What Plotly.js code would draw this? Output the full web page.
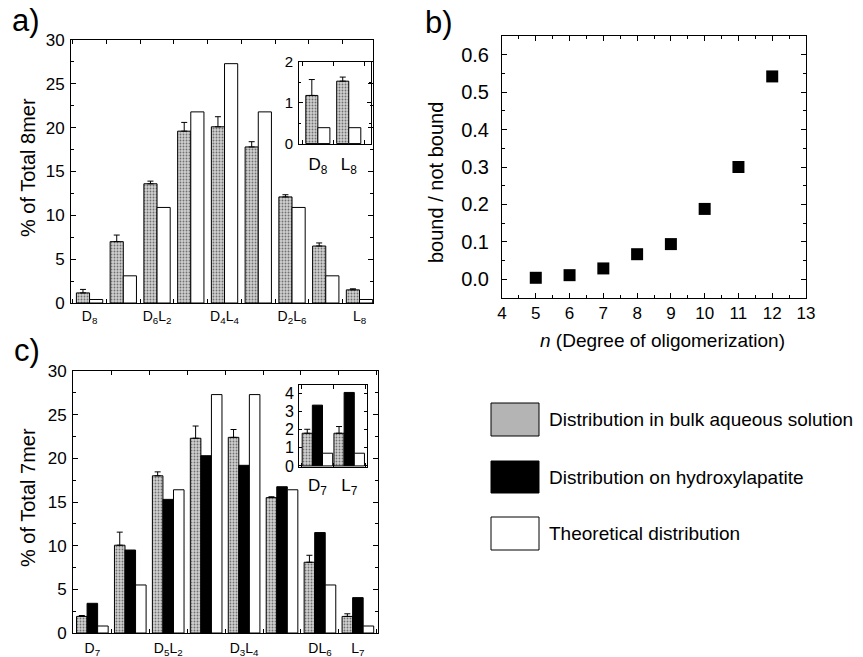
<!DOCTYPE html>
<html>
<head>
<meta charset="utf-8">
<script src="https://cdn.plot.ly/plotly-3.0.1.min.js"></script>
<style>html,body{margin:0;padding:0;background:#fff;}#chart{width:863px;height:657px;}</style>
</head>
<body>
<div id="chart"></div>
<script>
// ---------- data ----------
const cats8 = ['D8','D7L','D6L2','D5L3','D4L4','D3L5','D2L6','DL7','L8'];
const labels8 = ['D<sub>8</sub>','','D<sub>6</sub>L<sub>2</sub>','','D<sub>4</sub>L<sub>4</sub>','','D<sub>2</sub>L<sub>6</sub>','','L<sub>8</sub>'];
const bulk8 = [1.15, 7.0, 13.6, 19.6, 20.1, 17.8, 12.1, 6.5, 1.5];
const bulk8Err = [0.4, 0.75, 0.3, 1.0, 1.15, 0.6, 0.25, 0.35, 0.12];
const theo8 = [0.4, 3.1, 10.9, 21.8, 27.3, 21.8, 10.9, 3.1, 0.4];

const insetCats8 = ['D8','L8'];
const insetLabels8 = ['D<sub>8</sub>','L<sub>8</sub>'];
const insetBulk8 = [1.18, 1.53];
const insetBulk8Err = [0.39, 0.1];
const insetTheo8 = [0.39, 0.39];

const nValues = [5, 6, 7, 8, 9, 10, 11, 12];
const boundRatio = [0.004, 0.011, 0.029, 0.067, 0.094, 0.188, 0.300, 0.542];

const cats7 = ['D7','D6L','D5L2','D4L3','D3L4','D2L5','DL6','L7'];
const labels7 = ['D<sub>7</sub>','','D<sub>5</sub>L<sub>2</sub>','','D<sub>3</sub>L<sub>4</sub>','','DL<sub>6</sub>','L<sub>7</sub>'];
const bulk7 = [1.9, 10.05, 18.0, 22.3, 22.4, 15.5, 8.1, 1.9];
const bulk7Err = [0.1, 1.5, 0.45, 1.4, 0.9, 0.1, 0.8, 0.3];
const hap7 = [3.4, 9.5, 15.3, 20.3, 19.2, 16.75, 11.5, 4.05];
const theo7 = [0.8, 5.5, 16.4, 27.3, 27.3, 16.4, 5.5, 0.8];

const insetCats7 = ['D7','L7'];
const insetLabels7 = ['D<sub>7</sub>','L<sub>7</sub>'];
const insetBulk7 = [1.8, 1.8];
const insetBulk7Err = [0.22, 0.37];
const insetHap7 = [3.35, 4.05];
const insetTheo7 = [0.7, 0.7];

const legendNames = ['Distribution in bulk aqueous solution','Distribution on hydroxylapatite','Theoretical distribution'];

// ---------- helpers ----------
const W = 863, H = 657;
const px = v => v / W;
const py = v => 1 - v / H;
const FONT = 'Liberation Sans, Arial, Helvetica, sans-serif';
const idx = a => a.map((_, i) => i);
const labeledIdx = lab => lab.map((t, i) => t ? i : -1).filter(i => i >= 0);
const labeledTxt = lab => lab.filter(t => t);

const grayMarker = {
  color: '#c4c4c4',
  pattern: {shape: '.', fgcolor: '#707070', bgcolor: '#d0d0d0', size: 3, solidity: 0.3},
  line: {color: '#000', width: 1}
};
const blackMarker = {color: '#000', line: {color: '#000', width: 1}};
const whiteMarker = {color: '#fff', line: {color: '#000', width: 1}};
const errStyle = (arr) => ({type: 'data', symmetric: false, array: arr, arrayminus: arr.map(() => 0), color: '#000', thickness: 1, width: 3});

function bar(xa, ya, x, y, marker, offset, width, err) {
  const t = {type: 'bar', x: x, y: y, xaxis: xa, yaxis: ya, marker: marker, offset: offset, width: width, showlegend: false, hoverinfo: 'skip'};
  if (err) t.error_y = errStyle(err);
  return t;
}

const traces = [
  // panel a
  bar('x', 'y', idx(cats8), bulk8, grayMarker, -0.39, 0.39, bulk8Err),
  bar('x', 'y', idx(cats8), theo8, whiteMarker, 0, 0.39),
  // inset a
  bar('x2', 'y2', idx(insetCats8), insetBulk8, grayMarker, -0.39, 0.39, insetBulk8Err),
  bar('x2', 'y2', idx(insetCats8), insetTheo8, whiteMarker, 0, 0.39),
  // panel b
  {type: 'scatter', mode: 'markers', x: nValues, y: boundRatio, xaxis: 'x3', yaxis: 'y3',
   marker: {symbol: 'square', size: 12, color: '#000'}, showlegend: false, hoverinfo: 'skip'},
  // panel c
  bar('x4', 'y4', idx(cats7), bulk7, grayMarker, -0.417, 0.278, bulk7Err),
  bar('x4', 'y4', idx(cats7), hap7, blackMarker, -0.139, 0.278),
  bar('x4', 'y4', idx(cats7), theo7, whiteMarker, 0.139, 0.278),
  // inset c
  bar('x5', 'y5', idx(insetCats7), insetBulk7, grayMarker, -0.48, 0.32, insetBulk7Err),
  bar('x5', 'y5', idx(insetCats7), insetHap7, blackMarker, -0.16, 0.32),
  bar('x5', 'y5', idx(insetCats7), insetTheo7, whiteMarker, 0.16, 0.32)
];

const baseAxis = {
  showline: true, linecolor: '#000', linewidth: 1, mirror: 'allticks',
  ticks: 'inside', ticklen: 5, tickcolor: '#000', tickwidth: 1,
  showgrid: false, zeroline: false, fixedrange: true,
  tickfont: {family: FONT, size: 17, color: '#000'}
};
function ax(o) { return Object.assign({}, baseAxis, o); }

const catAxis = (domain, range, anchor, lab, fsize, standoff) => ax({
  domain: domain, range: range, anchor: anchor,
  tickmode: 'array', tickvals: labeledIdx(lab), ticktext: labeledTxt(lab), ticklen: 0,
  ticklabelstandoff: standoff,
  tickfont: {family: FONT, size: fsize, color: '#000'},
  minor: {tick0: 0.5, dtick: 1, ticks: 'inside', ticklen: 4, tickcolor: '#000', tickwidth: 1}
});

const layout = {
  width: W, height: H,
  margin: {l: 0, r: 0, t: 0, b: 0},
  paper_bgcolor: '#fff', plot_bgcolor: 'rgba(0,0,0,0)',
  barmode: 'overlay',
  font: {family: FONT, color: '#000'},
  // panel a
  xaxis: catAxis([px(71), px(373)], [-0.55, 8.4], 'y', labels8, 14, 0),
  yaxis: ax({domain: [py(303), py(40)], range: [0, 30], anchor: 'x', dtick: 5, ticklabelstandoff: 2,
             minor: {dtick: 2.5, ticks: 'inside', ticklen: 3, tickcolor: '#000'}}),
  // inset a
  xaxis2: catAxis([px(299), px(371)], [-0.61, 1.72], 'y2', insetLabels8, 17, 5),
  yaxis2: ax({domain: [py(144), py(62)], range: [-0.01, 2.0], anchor: 'x2', dtick: 1, ticklen: 4, ticklabelstandoff: 2,
              tickfont: {family: FONT, size: 15, color: '#000'},
              minor: {dtick: 0.5, ticks: 'inside', ticklen: 2, tickcolor: '#000'}}),
  // panel b
  xaxis3: ax({domain: [px(502), px(806)], range: [4, 13], anchor: 'y3', dtick: 1, ticklabelstandoff: 0,
              minor: {dtick: 0.5, ticks: 'inside', ticklen: 3, tickcolor: '#000'}}),
  yaxis3: ax({domain: [py(298), py(36)], range: [-0.05, 0.65], anchor: 'x3', dtick: 0.1, tickformat: '.1f',
              ticklabelstandoff: 8, tickfont: {family: FONT, size: 20, color: '#000'},
              minor: {dtick: 0.05, ticks: 'inside', ticklen: 3, tickcolor: '#000'}}),
  // panel c
  xaxis4: catAxis([px(73), px(378)], [-0.51, 7.53], 'y4', labels7, 14, 2),
  yaxis4: ax({domain: [py(633), py(371)], range: [0, 30], anchor: 'x4', dtick: 5, ticklabelstandoff: 2,
              minor: {dtick: 2.5, ticks: 'inside', ticklen: 3, tickcolor: '#000'}}),
  // inset c
  xaxis5: catAxis([px(299), px(367)], [-0.58, 1.56], 'y5', insetLabels7, 17, 3),
  yaxis5: ax({domain: [py(467), py(385)], range: [-0.06, 4.46], anchor: 'x5', dtick: 1, ticklen: 3, ticklabelstandoff: 1,
              tickfont: {family: FONT, size: 16, color: '#000'}}),
  annotations: [],
  shapes: []
};

const ann = (text, x, y, size, opts) => Object.assign({
  text: text, xref: 'paper', yref: 'paper', x: px(x), y: py(y), showarrow: false,
  xanchor: 'center', yanchor: 'middle', font: {family: FONT, size: size, color: '#000'}
}, opts || {});

layout.annotations.push(
  ann('a)', 26, 20, 31),
  ann('b)', 439, 22, 31),
  ann('c)', 27, 350, 31),
  ann('% of Total 8mer', 28, 168, 20, {textangle: -90}),
  ann('% of Total 7mer', 28, 498, 20, {textangle: -90}),
  ann('bound / not bound', 436, 183, 20, {textangle: -90}),
  ann('<i>n</i> (Degree of oligomerization)', 662, 340, 19)
);

// legend (swatches + text)
const legendFills = ['#b4b4b4', '#000', '#fff'];
const legendY = [[403, 436], [461, 493], [517, 550]];
legendNames.forEach((name, i) => {
  layout.shapes.push({type: 'rect', xref: 'paper', yref: 'paper',
    x0: px(491), x1: px(539), y0: py(legendY[i][1]), y1: py(legendY[i][0]),
    fillcolor: legendFills[i], line: {color: '#000', width: 1}});
  layout.annotations.push(ann(name, 547, (legendY[i][0] + legendY[i][1]) / 2, 19, {xanchor: 'left'}));
});

Plotly.newPlot('chart', traces, layout, {staticPlot: true, displayModeBar: false});
</script>
</body>
</html>
